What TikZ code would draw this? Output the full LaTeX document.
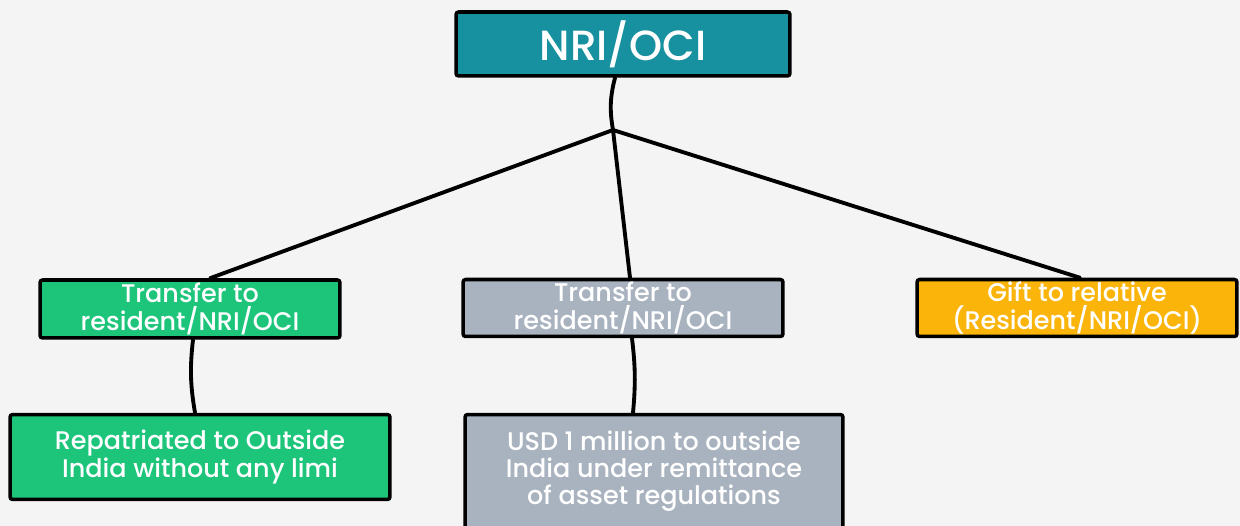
\documentclass[tikz,border=0pt]{standalone}
\usepackage{fontspec}
\setmainfont{Poppins}[BoldFont={* Medium}]
\definecolor{bgcol}{HTML}{F4F4F4}
\definecolor{tealbox}{HTML}{17909F}
\definecolor{greenbox}{HTML}{1CC57A}
\definecolor{greybox}{HTML}{A9B3BF}
\definecolor{goldbox}{HTML}{FAB40A}
\tikzset{
  box/.style={draw=black, line width=2pt, rounded corners=1.5pt, text=white,
    align=center, inner sep=0pt, font=\bfseries\fontsize{14.5}{15.5}\selectfont},
  link/.style={line width=2.2pt, line cap=round},
}
\begin{document}
\begin{tikzpicture}[x=0.02cm, y=-0.02cm]
  % Background
  \fill[bgcol] (0,0) rectangle (1240,526);
  \useasboundingbox (0,0) rectangle (1240,526);
  \clip (0,0) rectangle (1240,526);

  % Boxes
  \node[box, fill=tealbox, minimum width=6.68cm, minimum height=1.28cm,
    font=\bfseries\fontsize{24}{26}\selectfont] (root) at (623,44) {NRI/OCI};
  \node[box, fill=greenbox, minimum width=6cm, minimum height=1.16cm] (trA) at (190,309)
    {Transfer to\\resident/NRI/OCI};
  \node[box, fill=greybox, minimum width=6.4cm, minimum height=1.14cm] (trB) at (623,308)
    {Transfer to\\resident/NRI/OCI};
  \node[box, fill=goldbox, minimum width=6.4cm, minimum height=1.14cm] (gift) at (1077,308)
    {Gift to relative\\(Resident/NRI/OCI)};
  \node[box, fill=greenbox, minimum width=7.6cm, minimum height=1.7cm] (repat) at (200,457)
    {Repatriated to Outside\\India without any limi};
  \node[box, fill=greybox, minimum width=7.56cm, minimum height=2.42cm,
    text depth=0.3cm] (usd) at (654,475)
    {USD 1 million to outside\\India under remittance\\of asset regulations};

  % Connectors
  \coordinate (hub) at (613,130);
  \draw[link] ([xshift=-0.16cm]root.south) to[bend right=12] (hub);
  \draw[link] (hub) -- ([xshift=0.4cm]trA.north);
  \draw[link] (hub) -- ([xshift=0.14cm]trB.north);
  \draw[link] (hub) -- ([xshift=0.06cm]gift.north);
  \draw[link] ([xshift=0.06cm]trA.south) to[bend right=8] ([xshift=-0.1cm]repat.north);
  \draw[link] ([xshift=0.18cm]trB.south) to[bend left=6] ([xshift=-0.42cm]usd.north);
\end{tikzpicture}
\end{document}
